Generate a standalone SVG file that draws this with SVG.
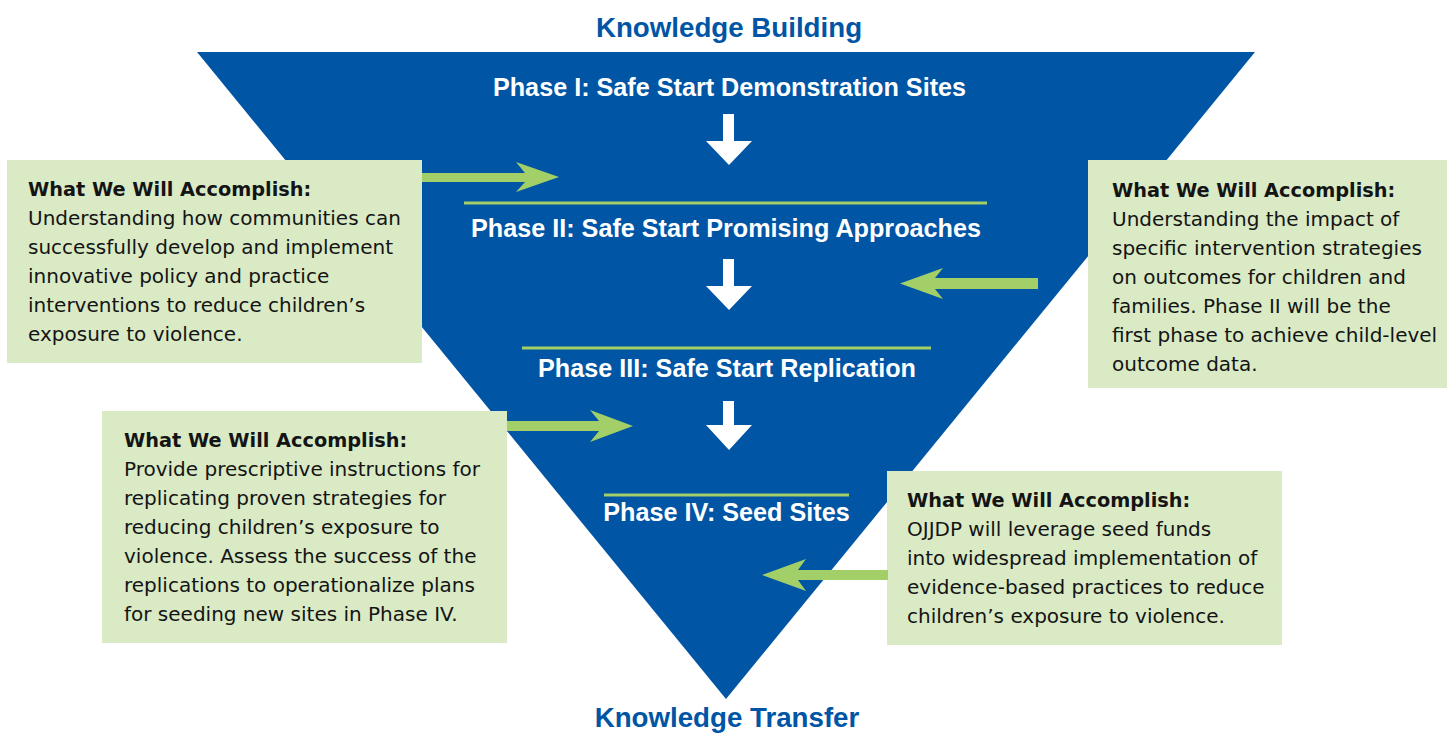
<svg xmlns="http://www.w3.org/2000/svg" width="1452" height="733" viewBox="0 0 1452 733">
<style>
.kb{font-family:"Liberation Sans",Arial,sans-serif;font-weight:bold;font-size:27.7px;fill:#0055A5;text-anchor:middle}
.ph{font-family:"Liberation Sans",Arial,sans-serif;font-weight:bold;font-size:25.2px;fill:#fff;text-anchor:middle}
.box{fill:#D9EAC5}
.bt{font-family:"DejaVu Sans",sans-serif;font-size:20px;fill:#141414}
.bt .h{font-weight:bold;font-size:19.3px}
.sep{stroke:#A3CF68;stroke-width:3}
.ga{fill:#A3CF68}
.wa{fill:#fff}
</style>
<rect width="1452" height="733" fill="#fff"/>
<g id="pyramid">
<polygon points="197,52 1255,52 726,699" fill="#0055A5"/>
</g>
<g id="title-top"><text class="kb" x="729" y="37">Knowledge Building</text></g>
<g id="title-bottom"><text class="kb" x="727" y="727">Knowledge Transfer</text></g>
<g id="phase1"><text class="ph" x="729.5" y="96">Phase I: Safe Start Demonstration Sites</text></g>
<g id="phase2"><text class="ph" x="726" y="237">Phase II: Safe Start Promising Approaches</text></g>
<g id="phase3"><text class="ph" x="727" y="377">Phase III: Safe Start Replication</text></g>
<g id="phase4"><text class="ph" x="726.5" y="521">Phase IV: Seed Sites</text></g>
<g id="box1">
<rect class="box" x="7" y="160" width="415" height="203"/>
<text class="bt" x="28" y="196"><tspan class="h">What We Will Accomplish:</tspan><tspan x="28" dy="29">Understanding how communities can</tspan><tspan x="28" dy="29">successfully develop and implement</tspan><tspan x="28" dy="29">innovative policy and practice</tspan><tspan x="28" dy="29">interventions to reduce children’s</tspan><tspan x="28" dy="29">exposure to violence.</tspan></text>
</g>
<g id="box2">
<rect class="box" x="1088" y="160" width="359" height="228"/>
<text class="bt" x="1112" y="197"><tspan class="h">What We Will Accomplish:</tspan><tspan x="1112" dy="29">Understanding the impact of</tspan><tspan x="1112" dy="29">specific intervention strategies</tspan><tspan x="1112" dy="29">on outcomes for children and</tspan><tspan x="1112" dy="29">families. Phase II will be the</tspan><tspan x="1112" dy="29">first phase to achieve child-level</tspan><tspan x="1112" dy="29">outcome data.</tspan></text>
</g>
<g id="box3">
<rect class="box" x="102" y="411" width="405" height="232"/>
<text class="bt" x="124" y="447"><tspan class="h">What We Will Accomplish:</tspan><tspan x="124" dy="29">Provide prescriptive instructions for</tspan><tspan x="124" dy="29">replicating proven strategies for</tspan><tspan x="124" dy="29">reducing children’s exposure to</tspan><tspan x="124" dy="29">violence. Assess the success of the</tspan><tspan x="124" dy="29">replications to operationalize plans</tspan><tspan x="124" dy="29">for seeding new sites in Phase IV.</tspan></text>
</g>
<g id="box4">
<rect class="box" x="887" y="471" width="395" height="174"/>
<text class="bt" x="907" y="507"><tspan class="h">What We Will Accomplish:</tspan><tspan x="907" dy="29">OJJDP will leverage seed funds</tspan><tspan x="907" dy="29">into widespread implementation of</tspan><tspan x="907" dy="29">evidence-based practices to reduce</tspan><tspan x="907" dy="29">children’s exposure to violence.</tspan></text>
</g>
<g id="connectors">
<line class="sep" x1="464" y1="203" x2="987" y2="203"/>
<line class="sep" x1="522" y1="348" x2="931" y2="348"/>
<line class="sep" x1="604" y1="495" x2="849" y2="495"/>
<polygon class="wa" points="723,114 734,114 734,141 752,141 729,165 706,141 723,141"/>
<polygon class="wa" points="723,259 734,259 734,286 752,286 729,310 706,286 723,286"/>
<polygon class="wa" points="723,401 734,401 734,425 752,425 729,450 706,425 723,425"/>
<polygon class="ga" points="422,173 525,173 516,162 559,177 516,192 525,182 422,182"/>
<polygon class="ga" points="1038,278 935,278 943,268 900,283.5 943,299 935,289 1038,289"/>
<polygon class="ga" points="507,421 599,421 590,410 633,426 590,442 599,431 507,431"/>
<polygon class="ga" points="888,570 798,570 806,559 762,575 806,591 798,580 888,580"/>
</g>
</svg>
